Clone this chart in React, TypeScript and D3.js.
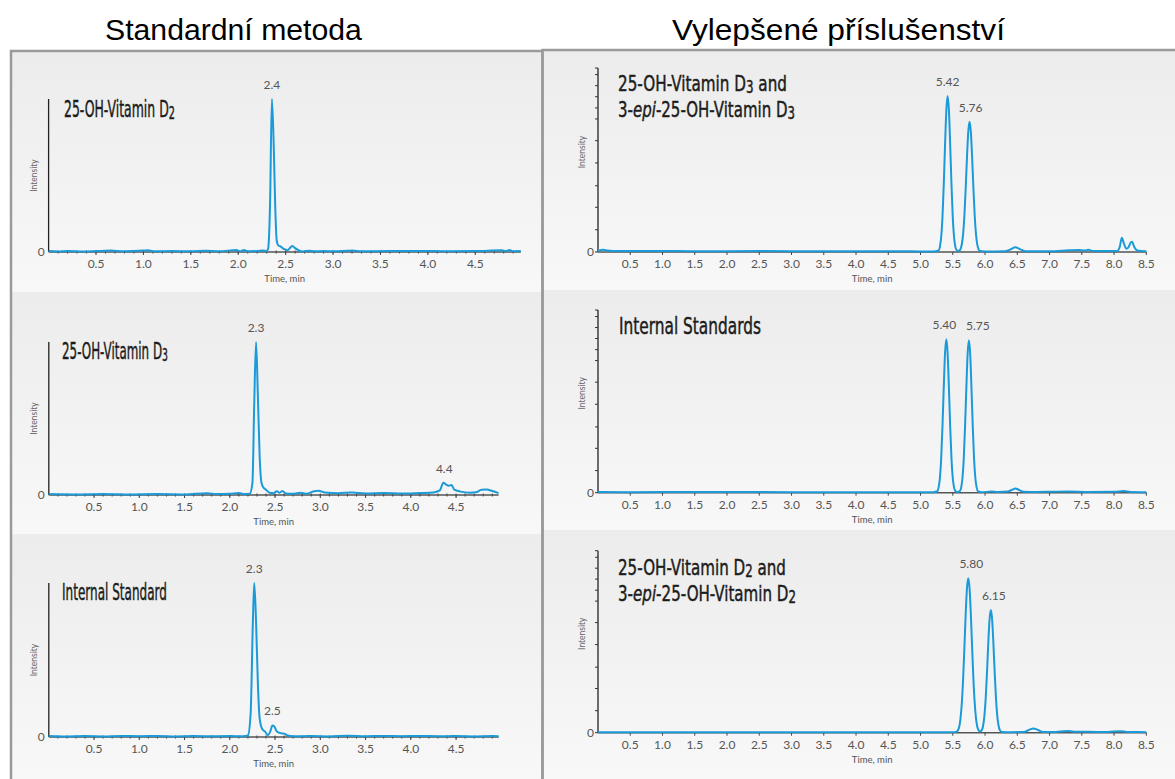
import React, { useLayoutEffect, useRef, useState } from 'react';
import * as d3 from 'd3';

type Pt = [number, number];
type Seg = { t: string; sub?: boolean; it?: boolean };

// ---------- DATA ----------
const HEADERS = ['Standardní metoda', 'Vylepšené příslušenství'];
const X_LABEL = 'Time, min';
const Y_LABEL = 'Intensity';

const LEFT_X_TICKS = [0.5, 1.0, 1.5, 2.0, 2.5, 3.0, 3.5, 4.0, 4.5];
const RIGHT_X_TICKS = [0.5, 1.0, 1.5, 2.0, 2.5, 3.0, 3.5, 4.0, 4.5, 5.0, 5.5, 6.0, 6.5, 7.0, 7.5, 8.0, 8.5];
const RIGHT_Y_TICKS = [0, 12.1, 24.3, 36, 48.4, 60.5, 72.3, 78.3, 84.4, 90.4, 96.4, 100];

// Standard method: 25-OH-Vitamin D2
const stdD2Trace: Pt[] = [
  [0.0, 0.6], [0.1, 0.4], [0.2, 0.7], [0.35, 0.4], [0.5, 0.6], [0.65, 0.9], [0.8, 0.5], [1.0, 0.9], [1.05, 1.1],
  [1.1, 0.5], [1.3, 0.6], [1.5, 0.5], [1.65, 0.8], [1.8, 0.5], [1.98, 1.3], [2.02, 0.5], [2.06, 1.3], [2.1, 0.5],
  [2.2, 0.6], [2.26, 0.9], [2.3, 0.6], [2.315, 2], [2.335, 30], [2.355, 100], [2.375, 68], [2.39, 30], [2.405, 8],
  [2.42, 4.5], [2.45, 3.5], [2.48, 2], [2.52, 1.2], [2.55, 3], [2.57, 4], [2.6, 2.5], [2.64, 1], [2.68, 0.4],
  [2.75, 0.8], [2.8, 0.5], [2.9, 0.6], [3.0, 0.5], [3.15, 0.8], [3.2, 0.9], [3.3, 0.5], [3.6, 0.6], [3.9, 0.7],
  [4.2, 0.5], [4.5, 0.6], [4.78, 1.2], [4.82, 0.6], [4.86, 1.3], [4.9, 0.5], [4.98, 0.6],
];
const stdD2Peaks = [{ t: 2.355, v: 100, label: '2.4' }];

// Standard method: 25-OH-Vitamin D3
const stdD3Trace: Pt[] = [
  [0.0, 0.6], [0.3, 0.4], [0.6, 0.7], [0.9, 0.4], [1.2, 0.6], [1.5, 0.4], [1.75, 1.2], [1.85, 0.6], [2.0, 0.8],
  [2.1, 1.3], [2.15, 0.6], [2.22, 0.8], [2.25, 8], [2.27, 60], [2.29, 100], [2.31, 65], [2.33, 25], [2.35, 8],
  [2.37, 5], [2.4, 3.5], [2.44, 1.5], [2.48, 1.2], [2.52, 2.5], [2.55, 1.5], [2.58, 2.6], [2.62, 1], [2.7, 0.8],
  [2.78, 1.5], [2.85, 0.8], [2.93, 2.5], [2.98, 2.8], [3.05, 1.6], [3.2, 1.2], [3.35, 1.6], [3.5, 1], [3.7, 1.3],
  [3.9, 1], [4.1, 1.3], [4.25, 1.6], [4.32, 3], [4.36, 8], [4.39, 6.8], [4.42, 6], [4.45, 6.5], [4.48, 3.5],
  [4.55, 2.2], [4.65, 1.5], [4.72, 1.8], [4.78, 3.4], [4.84, 3.6], [4.9, 2.6], [4.97, 1.2],
];
const stdD3Peaks = [
  { t: 2.29, v: 100, label: '2.3' },
  { t: 4.37, v: 8, label: '4.4' },
];

// Standard method: Internal Standard
const stdISTrace: Pt[] = [
  [0.0, 0.7], [0.2, 0.4], [0.4, 0.6], [0.6, 0.4], [0.8, 0.7], [1.0, 0.5], [1.2, 0.7], [1.4, 0.4], [1.6, 0.6],
  [1.8, 0.5], [2.0, 0.6], [2.15, 0.5], [2.2, 1], [2.23, 15], [2.255, 75], [2.27, 100], [2.29, 75], [2.31, 35],
  [2.33, 12], [2.36, 5], [2.39, 3.5], [2.42, 1.2], [2.45, 4], [2.47, 7.5], [2.49, 7], [2.52, 3.5], [2.56, 2.5],
  [2.6, 2.2], [2.64, 1], [2.7, 0.5], [2.9, 0.6], [3.1, 0.4], [3.3, 0.8], [3.5, 0.5], [3.7, 0.7], [3.9, 0.5],
  [4.1, 0.7], [4.3, 0.5], [4.5, 0.6], [4.7, 0.4], [4.9, 0.6], [4.97, 0.5],
];
const stdISPeaks = [
  { t: 2.27, v: 100, label: '2.3' },
  { t: 2.47, v: 7.5, label: '2.5' },
];

// Enhanced: 25-OH-Vitamin D3 and 3-epi-25-OH-Vitamin D3
const enhD3Trace: Pt[] = [
  [0.0, 0.6], [0.08, 1.2], [0.15, 0.8], [0.3, 0.5], [0.8, 0.6], [1.5, 0.4], [2.5, 0.5], [3.5, 0.4], [4.5, 0.4],
  [5.2, 0.3], [5.28, 0.8], [5.3, 2.8], [5.32, 8], [5.34, 18.7], [5.36, 36.5], [5.38, 58], [5.4, 77], [5.42, 84.8],
  [5.44, 77], [5.46, 58], [5.48, 36.5], [5.5, 18.7], [5.52, 8], [5.54, 2.8], [5.56, 1], [5.58, 0.6], [5.6, 0.8],
  [5.62, 1.6], [5.64, 4.2], [5.66, 9.7], [5.68, 19.7], [5.7, 34.5], [5.72, 51.4], [5.74, 65.3], [5.76, 70.8],
  [5.78, 65.3], [5.8, 51.4], [5.82, 34.5], [5.84, 19.7], [5.86, 9.6], [5.88, 4], [5.9, 1.4], [5.92, 0.5],
  [6.0, 0.3], [6.3, 0.4], [6.4, 1.5], [6.47, 2.6], [6.54, 1.6], [6.62, 0.4], [7.0, 0.4], [7.3, 0.9], [7.45, 1.1],
  [7.55, 0.8], [7.6, 1.2], [7.68, 0.6], [7.9, 0.6], [8.05, 0.6], [8.09, 3], [8.12, 7.8], [8.15, 5], [8.19, 1.8],
  [8.22, 2.4], [8.26, 5.2], [8.28, 5.6], [8.31, 3], [8.35, 1], [8.42, 0.5], [8.5, 0.4],
];
const enhD3Peaks = [
  { t: 5.42, v: 84.8, label: '5.42' },
  { t: 5.76, v: 70.8, label: '5.76' },
];

// Enhanced: Internal Standards
const enhISTrace: Pt[] = [
  [0.0, 0.4], [0.5, 0.3], [1.5, 0.4], [3.0, 0.3], [4.5, 0.3], [5.2, 0.3], [5.26, 0.8], [5.28, 2.8], [5.3, 7.9],
  [5.32, 18.5], [5.34, 36], [5.36, 57.5], [5.38, 76.5], [5.4, 84], [5.42, 76.5], [5.44, 57.5], [5.46, 36],
  [5.48, 18.5], [5.5, 7.9], [5.52, 2.8], [5.54, 0.9], [5.575, 0.3], [5.61, 0.9], [5.63, 2.8], [5.65, 7.9],
  [5.67, 18.5], [5.69, 36], [5.71, 57], [5.73, 76], [5.75, 83.5], [5.77, 76], [5.79, 57], [5.81, 36], [5.83, 18.5],
  [5.85, 7.9], [5.87, 2.8], [5.89, 0.9], [5.95, 0.3], [6.1, 0.6], [6.2, 0.4], [6.35, 0.6], [6.42, 1.6], [6.47, 2.3],
  [6.52, 1.6], [6.6, 0.5], [6.8, 0.4], [7.0, 0.5], [7.3, 0.7], [7.6, 0.4], [8.0, 0.5], [8.15, 0.9], [8.25, 0.4],
  [8.5, 0.3],
];
const enhISPeaks = [
  { t: 5.4, v: 84, label: '5.40' },
  { t: 5.75, v: 83.5, label: '5.75' },
];

// Enhanced: 25-OH-Vitamin D2 and 3-epi-25-OH-Vitamin D2
const enhD2Trace: Pt[] = [
  [0.0, 0.3], [1.0, 0.3], [2.0, 0.3], [3.0, 0.3], [4.0, 0.3], [5.0, 0.3], [5.5, 0.3], [5.56, 0.6], [5.58, 1.3],
  [5.6, 3.3], [5.62, 7.9], [5.64, 16.3], [5.66, 29.4], [5.68, 46.7], [5.7, 65.1], [5.72, 79.4], [5.74, 84.8],
  [5.76, 79.4], [5.78, 65.1], [5.8, 46.7], [5.82, 29.4], [5.84, 16.3], [5.86, 7.9], [5.88, 3.3], [5.9, 1.3],
  [5.92, 0.6], [5.95, 1.4], [5.97, 3.8], [5.99, 9.1], [6.01, 18.7], [6.03, 32.8], [6.05, 48.9], [6.07, 62.2],
  [6.09, 67.4], [6.11, 62.2], [6.13, 48.9], [6.15, 32.8], [6.17, 18.7], [6.19, 9.1], [6.21, 3.8], [6.23, 1.3],
  [6.26, 0.4], [6.4, 0.3], [6.6, 0.4], [6.68, 1.5], [6.75, 2.3], [6.82, 1.5], [6.9, 0.4], [7.1, 0.4], [7.22, 0.8],
  [7.3, 0.9], [7.4, 0.5], [7.6, 0.5], [7.9, 0.4], [8.1, 0.8], [8.2, 0.4], [8.5, 0.3],
];
const enhD2Peaks = [
  { t: 5.74, v: 84.8, label: '5.80' },
  { t: 6.09, v: 67.4, label: '6.15' },
];

const TITLE_STD_D2: Seg[][] = [[{ t: '25-OH-Vitamin D' }, { t: '2', sub: true }]];
const TITLE_STD_D3: Seg[][] = [[{ t: '25-OH-Vitamin D' }, { t: '3', sub: true }]];
const TITLE_STD_IS: Seg[][] = [[{ t: 'Internal Standard' }]];
const TITLE_ENH_D3: Seg[][] = [
  [{ t: '25-OH-Vitamin D' }, { t: '3', sub: true }, { t: ' and' }],
  [{ t: '3-' }, { t: 'epi', it: true }, { t: '-25-OH-Vitamin D' }, { t: '3', sub: true }],
];
const TITLE_ENH_IS: Seg[][] = [[{ t: 'Internal Standards' }]];
const TITLE_ENH_D2: Seg[][] = [
  [{ t: '25-OH-Vitamin D' }, { t: '2', sub: true }, { t: ' and' }],
  [{ t: '3-' }, { t: 'epi', it: true }, { t: '-25-OH-Vitamin D' }, { t: '2', sub: true }],
];

// ---------- LAYOUT ----------
type ChartCfg = {
  trace: Pt[];
  peaks: { t: number; v: number; label: string }[];
  labelDx: number[];
  title: Seg[][];
  titleX: number;
  titleY: number[];
  titleW: number[];
  titleSize: number;
  xMax: number;
  xR: [number, number];
  yR: [number, number];
  xTicks: number[];
  right: boolean;
};

const charts: ChartCfg[] = [
  { trace: stdD2Trace, peaks: stdD2Peaks, labelDx: [0], title: TITLE_STD_D2, titleX: 64, titleY: [117], titleW: [111],
    titleSize: 23, xMax: 4.98, xR: [48.6, 520.8], yR: [252, 99], xTicks: LEFT_X_TICKS, right: false },
  { trace: stdD3Trace, peaks: stdD3Peaks, labelDx: [0, 0], title: TITLE_STD_D3, titleX: 62, titleY: [359], titleW: [106],
    titleSize: 23, xMax: 4.97, xR: [48.8, 498.6], yR: [495, 342], xTicks: LEFT_X_TICKS, right: false },
  { trace: stdISTrace, peaks: stdISPeaks, labelDx: [0, 0], title: TITLE_STD_IS, titleX: 62, titleY: [600], titleW: [105],
    titleSize: 23, xMax: 4.97, xR: [48.8, 498.6], yR: [737, 583], xTicks: LEFT_X_TICKS, right: false },
  { trace: enhD3Trace, peaks: enhD3Peaks, labelDx: [0, 1], title: TITLE_ENH_D3, titleX: 618, titleY: [91, 117], titleW: [169, 177],
    titleSize: 22, xMax: 8.5, xR: [598, 1146.3], yR: [252, 68], xTicks: RIGHT_X_TICKS, right: true },
  { trace: enhISTrace, peaks: enhISPeaks, labelDx: [-2, 9], title: TITLE_ENH_IS, titleX: 619, titleY: [334], titleW: [142],
    titleSize: 23, xMax: 8.5, xR: [598, 1146.3], yR: [492.7, 310], xTicks: RIGHT_X_TICKS, right: true },
  { trace: enhD2Trace, peaks: enhD2Peaks, labelDx: [3, 3], title: TITLE_ENH_D2, titleX: 618, titleY: [574.5, 600.5], titleW: [168, 178],
    titleSize: 22, xMax: 8.5, xR: [598, 1146.3], yR: [732.7, 550.7], xTicks: RIGHT_X_TICKS, right: true },
];

const TRACE_COLOR = '#1b9ad8';
const TITLE_FONT = "'Liberation Sans Narrow', 'DejaVu Sans Condensed', 'Roboto', sans-serif";
const LABEL_FONT = "Lato, 'Open Sans', sans-serif";
const HEADER_FONT = "'Liberation Sans', Arial, sans-serif";

function FitText({ x, y, width, segs, size, family, fill, stroke }: {
  x: number; y: number; width: number; segs: Seg[]; size: number; family: string; fill: string; stroke?: number;
}) {
  const ref = useRef<SVGTextElement>(null);
  const [s, setS] = useState(1);
  useLayoutEffect(() => {
    if (ref.current) {
      const w = ref.current.getComputedTextLength();
      if (w > 0) setS(width / w);
    }
  }, [width]);
  let subOn = false;
  return (
    <g transform={`translate(${x},${y}) scale(${s},1)`}>
      <text ref={ref} x={0} y={0} fontFamily={family} fontSize={size} fill={fill}
        stroke={stroke ? fill : undefined} strokeWidth={stroke}>
        {segs.map((sg, i) => {
          let dy = 0;
          if (sg.sub && !subOn) { dy = 2; subOn = true; }
          else if (!sg.sub && subOn) { dy = -2; subOn = false; }
          return (
            <tspan key={i} dy={dy} fontSize={sg.sub ? size * 0.78 : size} fontStyle={sg.it ? 'italic' : 'normal'}>
              {sg.t}
            </tspan>
          );
        })}
      </text>
    </g>
  );
}

function Chart({ c }: { c: ChartCfg }) {
  const x = d3.scaleLinear().domain([0, c.xMax]).range(c.xR);
  const y = d3.scaleLinear().domain([0, 100]).range(c.yR);
  const line = d3.line<Pt>().x((d) => x(d[0])).y((d) => y(d[1])).curve(d3.curveMonotoneX);
  const base = c.yR[0];
  const top = c.yR[1];
  const minor = d3.range(1, Math.floor(c.xMax * 10) + 1).map((i) => i / 10);
  const yTicks = c.right ? RIGHT_Y_TICKS : [];
  return (
    <g>
      {/* y axis */}
      <line x1={x(0)} x2={x(0)} y1={top} y2={base} stroke="#222" strokeWidth={1.3} />
      {yTicks.map((v, i) => (
        <line key={i} x1={x(0) - 3} x2={x(0)} y1={y(v)} y2={y(v)} stroke="#333" strokeWidth={1} />
      ))}
      <text x={x(0) - 4} y={base} dy="0.35em" textAnchor="end" fontFamily={LABEL_FONT} fontSize={12} fill="#555">0</text>
      <text
        transform={`translate(${c.right ? 585 : 37},${c.right ? (top + base) / 2 - 8 : (top + base) / 2}) rotate(-90)`}
        textAnchor="middle" fontFamily={LABEL_FONT} fontSize={8.5} fill="#666">{Y_LABEL}</text>
      {/* x axis */}
      <line x1={x(0)} x2={x(c.xMax)} y1={base} y2={base} stroke="#555" strokeWidth={1.5} />
      {!c.right && minor.map((v, i) => (
        <line key={i} x1={x(v)} x2={x(v)} y1={base - 1.5} y2={base + 1.5} stroke="#444" strokeWidth={1} />
      ))}
      {c.xTicks.map((v, i) => (
        <g key={i}>
          <line x1={x(v)} x2={x(v)} y1={base} y2={base + 3} stroke="#444" strokeWidth={1} />
          <text x={x(v)} y={base + 12} dy="0.35em" textAnchor="middle" fontFamily={LABEL_FONT} fontSize={12} fill="#555">
            {v.toFixed(1)}
          </text>
        </g>
      ))}
      <text x={(c.xR[0] + c.xR[1]) / 2} y={base + 27} dy="0.35em" textAnchor="middle" fontFamily={LABEL_FONT}
        fontSize={9.5} fill="#555">{X_LABEL}</text>
      {/* trace */}
      <path d={line(c.trace) || ''} fill="none" stroke={TRACE_COLOR} strokeWidth={2} strokeLinejoin="round" />
      {/* peak labels */}
      {c.peaks.map((p, i) => (
        <text key={i} x={x(p.t) + (c.labelDx[i] || 0)} y={y(p.v) - 10} textAnchor="middle" fontFamily={LABEL_FONT}
          fontSize={12} fill="#555">
          {p.label}
        </text>
      ))}
      {/* title */}
      {c.title.map((segs, i) => (
        <FitText key={i} x={c.titleX} y={c.titleY[i]} width={c.titleW[i]} segs={segs} size={c.titleSize}
          family={TITLE_FONT} fill="#1c1c1c" stroke={0.45} />
      ))}
    </g>
  );
}

const ROWS_LEFT: [number, number][] = [[52, 292], [292, 534], [534, 779]];
const ROWS_RIGHT: [number, number][] = [[51, 290], [290, 530], [530, 779]];

export default function App() {
  return (
    <svg width={1175} height={779} style={{ position: 'absolute', left: 0, top: 0 }}>
      <defs>
        <linearGradient id="rowbg" x1="0" y1="0" x2="0" y2="1">
          <stop offset="0" stopColor="#ececec" />
          <stop offset="1" stopColor="#f8f8f8" />
        </linearGradient>
      </defs>
      <rect x={0} y={0} width={1175} height={779} fill="#ffffff" />
      {ROWS_LEFT.map((r, i) => (
        <rect key={'l' + i} x={12} y={r[0]} width={530} height={r[1] - r[0]} fill="url(#rowbg)" />
      ))}
      {ROWS_RIGHT.map((r, i) => (
        <rect key={'r' + i} x={544} y={r[0]} width={631} height={r[1] - r[0]} fill="url(#rowbg)" />
      ))}
      {/* panel borders */}
      <path d="M11,780 V51 H542.5 V780" fill="none" stroke="#9a9a9a" strokeWidth={2.5} />
      <path d="M542.5,780 V50 H1176" fill="none" stroke="#9a9a9a" strokeWidth={2.5} />
      {/* headers */}
      <FitText x={105} y={40} width={257} segs={[{ t: HEADERS[0] }]} size={30} family={HEADER_FONT} fill="#000" />
      <FitText x={672} y={40} width={333} segs={[{ t: HEADERS[1] }]} size={30} family={HEADER_FONT} fill="#000" />
      {charts.map((c, i) => <Chart key={i} c={c} />)}
    </svg>
  );
}
